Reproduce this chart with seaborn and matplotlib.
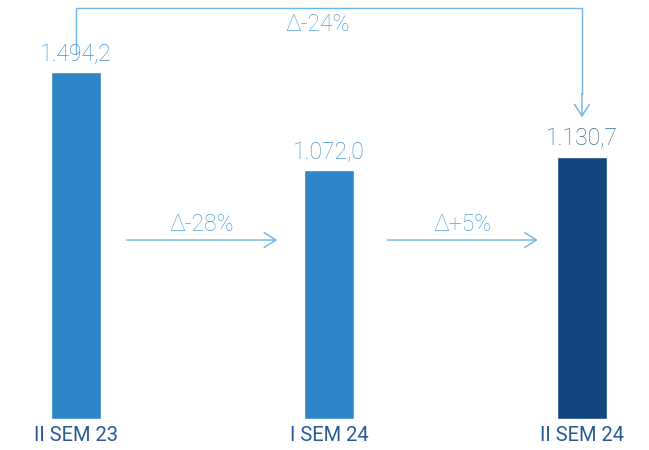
import matplotlib
matplotlib.use("Agg")
import matplotlib.pyplot as plt
import seaborn as sns

categories = ["II SEM 23", "I SEM 24", "II SEM 24"]
values = [1494.2, 1072.0, 1130.7]
value_labels = ["1.494,2", "1.072,0", "1.130,7"]
bar_colors = ["#2E86C8", "#2E86C8", "#134580"]
value_label_colors = ["#4290CE", "#4290CE", "#36669F"]
step_labels = ["Δ-28%", "Δ+5%"]
total_label = "Δ-24%"

sns.set_theme(style="white")
plt.rcParams["font.family"] = ["Roboto", "DejaVu Sans"]

fig = plt.figure(figsize=(6.49, 4.5), dpi=100)
ax = fig.add_axes([0, 31 / 450, 1, 419 / 450])

sns.barplot(x=categories, y=values, hue=categories, palette=bar_colors,
            width=0.198, legend=False, ax=ax, saturation=1)

ax.set_xlim(-0.300, 2.265)
ax.set_ylim(0, 1805)
ax.axis("off")

arrow_c = "#6BB5E8"
text_c = "#52A0DA"

for i, (v, lab, c) in enumerate(zip(values, value_labels, value_label_colors)):
    ax.text(i, v + 28, lab, ha="center", va="bottom", fontsize=16.5,
            color=c, fontweight="light")
    ax.text(i, -30, categories[i], ha="center", va="top", fontsize=14.5,
            color="#285A96", fontweight="normal", clip_on=False)

arrow_y = 771
starts = [0.20, 0.23]
for i, lab in enumerate(step_labels):
    x0 = i + starts[i]
    ax.annotate("", xy=(x0 + 0.595, arrow_y), xytext=(x0, arrow_y),
                arrowprops=dict(arrowstyle="->,head_length=0.7,head_width=0.45",
                                color=arrow_c, lw=1.0, shrinkA=0, shrinkB=0))
    ax.text(x0 + 0.2975, arrow_y + 16, lab, ha="center", va="bottom",
            fontsize=16.5, color=text_c, fontweight="light")

top_y = 1770
ax.plot([0, 0, 2, 2], [1572, top_y, top_y, 1400], color=arrow_c, lw=1.0,
        clip_on=False, solid_joinstyle="miter")
ax.annotate("", xy=(2, 1300), xytext=(2, 1402),
            arrowprops=dict(arrowstyle="->,head_length=0.7,head_width=0.45",
                            color=arrow_c, lw=1.0, shrinkA=0, shrinkB=0))
ax.text(0.957, 1650, total_label, ha="center", va="bottom", fontsize=16.5,
        color=text_c, fontweight="light")

fig.savefig("out.png", dpi=100)
